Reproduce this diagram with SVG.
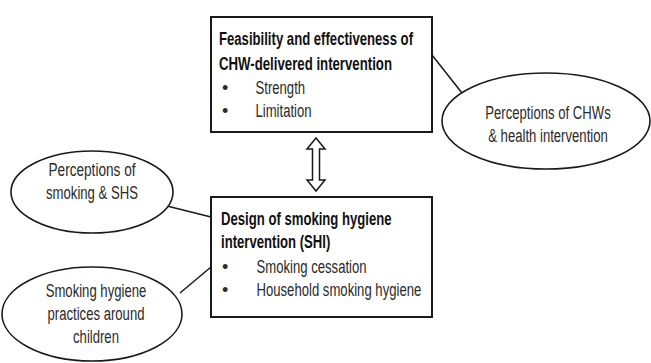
<svg xmlns="http://www.w3.org/2000/svg" width="651" height="363" viewBox="0 0 651 363">
<style>
text{font-family:"Liberation Sans",Arial,sans-serif;font-size:18px;fill:#2a2a2a}
.b{font-weight:bold;fill:#111}
.c{text-anchor:middle}
.box{fill:#fff;stroke:#1a1a1a;stroke-width:2}
.ell{fill:#fff;stroke:#1a1a1a;stroke-width:1.6}
.con{stroke:#1a1a1a;stroke-width:1.5;fill:none}
</style>
<rect width="651" height="363" fill="#fff"/>
<g id="connectors">
<line class="con" x1="432" y1="55" x2="462" y2="93"/>
<line class="con" x1="163" y1="205" x2="211" y2="217"/>
<line class="con" x1="180" y1="293" x2="211" y2="267"/>
<path class="con" d="M316 138 L325 149 L319.5 149 L319.5 180 L325 180 L316 191 L307 180 L312.5 180 L312.5 149 L307 149 Z" fill="#fff" stroke-width="1.2"/>
</g>
<g id="feasibility">
<rect class="box" x="211" y="17" width="221" height="115"/>
<text class="b" x="219" y="45" textLength="194" lengthAdjust="spacingAndGlyphs">Feasibility and effectiveness of</text>
<text class="b" x="219" y="70" textLength="173" lengthAdjust="spacingAndGlyphs">CHW-delivered intervention</text>
<text x="222" y="94">•</text>
<text x="255.5" y="94" textLength="49.6" lengthAdjust="spacingAndGlyphs">Strength</text>
<text x="222" y="117">•</text>
<text x="255.5" y="117" textLength="56.1" lengthAdjust="spacingAndGlyphs">Limitation</text>
</g>
<g id="design">
<rect class="box" x="211" y="197" width="221" height="120"/>
<text class="b" x="221" y="225" textLength="170.6" lengthAdjust="spacingAndGlyphs">Design of smoking hygiene</text>
<text class="b" x="221" y="248" textLength="109.3" lengthAdjust="spacingAndGlyphs">intervention (SHI)</text>
<text x="222" y="273">•</text>
<text x="256.5" y="273" textLength="110.1" lengthAdjust="spacingAndGlyphs">Smoking cessation</text>
<text x="222" y="296">•</text>
<text x="256.5" y="296" textLength="164.8" lengthAdjust="spacingAndGlyphs">Household smoking hygiene</text>
</g>
<g id="perceptions-chw">
<ellipse class="ell" cx="546" cy="121" rx="104" ry="48"/>
<text class="c" x="548" y="119" textLength="125.4" lengthAdjust="spacingAndGlyphs">Perceptions of CHWs</text>
<text class="c" x="548" y="142" textLength="119.6" lengthAdjust="spacingAndGlyphs">&amp; health intervention</text>
</g>
<g id="perceptions-smoking">
<ellipse class="ell" cx="92" cy="192" rx="81" ry="41"/>
<text class="c" x="92" y="176" textLength="87" lengthAdjust="spacingAndGlyphs">Perceptions of</text>
<text class="c" x="92" y="199" textLength="92" lengthAdjust="spacingAndGlyphs">smoking &amp; SHS</text>
</g>
<g id="practices">
<ellipse class="ell" cx="92" cy="314" rx="90" ry="47"/>
<text class="c" x="96" y="297" textLength="100.6" lengthAdjust="spacingAndGlyphs">Smoking hygiene</text>
<text class="c" x="96" y="320" textLength="97" lengthAdjust="spacingAndGlyphs">practices around</text>
<text class="c" x="96" y="343" textLength="45.9" lengthAdjust="spacingAndGlyphs">children</text>
</g>
</svg>
